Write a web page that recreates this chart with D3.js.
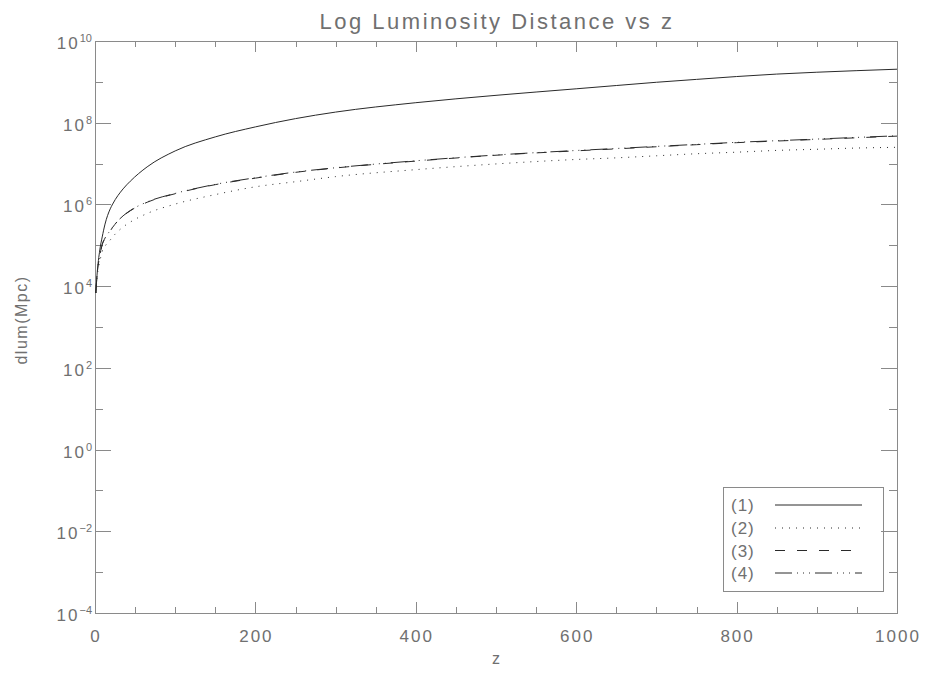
<!DOCTYPE html>
<html>
<head>
<meta charset="utf-8">
<script src="https://cdn.jsdelivr.net/npm/d3@7"></script>
<style>
  html, body { margin: 0; padding: 0; background: #fff; }
  svg { display: block; }
  text { font-family: "Liberation Sans", "DejaVu Sans", sans-serif; fill: #707070; }
</style>
</head>
<body>
<svg id="chart" width="927" height="673"></svg>
<script>
// ---- data ----
const zValues = [1, 2.5, 6, 9, 12.5, 19, 22, 35, 44, 65, 100, 150, 200, 250, 300, 400, 500, 600, 650, 700, 750, 800, 850, 900, 950, 1000];
const series1 = [6.8e3, 1.86e4, 7.7e4, 1.6e5, 3.3e5, 7.8e5, 1.02e6, 2.4e6, 3.7e6, 8.3e6, 2.04e7, 4.5e7, 7.9e7, 1.26e8, 1.82e8, 3.09e8, 4.68e8, 6.76e8, 8.13e8, 9.77e8, 1.15e9, 1.35e9, 1.55e9, 1.72e9, 1.88e9, 2.04e9];
const series2 = [6.8e3, 1.6e4, 4.0e4, 7.1e4, 9.5e4, 1.35e5, 1.6e5, 2.8e5, 3.7e5, 6.0e5, 1.02e6, 1.74e6, 2.7e6, 3.6e6, 4.8e6, 7.1e6, 9.8e6, 1.26e7, 1.38e7, 1.55e7, 1.74e7, 1.9e7, 2.1e7, 2.24e7, 2.4e7, 2.5e7];
const series3 = [6.8e3, 1.78e4, 5.5e4, 1.03e5, 1.48e5, 2.25e5, 2.75e5, 5.2e5, 7.0e5, 1.13e6, 1.83e6, 3.05e6, 4.4e6, 6.1e6, 7.8e6, 1.15e7, 1.6e7, 2.05e7, 2.29e7, 2.58e7, 2.9e7, 3.25e7, 3.56e7, 3.9e7, 4.28e7, 4.7e7];
const series4 = [6.8e3, 1.8e4, 5.6e4, 1.05e5, 1.5e5, 2.3e5, 2.8e5, 5.25e5, 7.1e5, 1.15e6, 1.86e6, 3.1e6, 4.5e6, 6.2e6, 7.9e6, 1.17e7, 1.62e7, 2.09e7, 2.34e7, 2.63e7, 2.95e7, 3.31e7, 3.63e7, 3.98e7, 4.37e7, 4.79e7];
const seriesNames = ["(1)", "(2)", "(3)", "(4)"];
const xTickValues = [0, 200, 400, 600, 800, 1000];
const xMinorTicks = [50, 100, 150, 250, 300, 350, 450, 500, 550, 650, 700, 750, 850, 900, 950];
const yTickExponents = [10, 8, 6, 4, 2, 0, -2, -4];
const yMinorExponents = [9, 7, 5, 3, 1, -1, -3];
const titleText = "Log Luminosity Distance vs z";
const xLabel = "z";
const yLabel = "dlum(Mpc)";

// ---- layout ----
const L = 95, R = 897, T = 41, B = 613;
const svg = d3.select("#chart");
const x = d3.scaleLinear().domain([0, 1000]).range([L, R]);
const y = d3.scaleLog().domain([1e-4, 1e10]).range([B, T]);

const axisColor = "#8a8a8a";
const xTick = 0.02 * (B - T);
const yTick = 0.02 * (R - L);

function styleAxis(g) {
  g.selectAll("path, line").attr("stroke", axisColor).attr("stroke-width", 1).attr("shape-rendering", "crispEdges");
  g.selectAll("text").remove();
}

// bottom
svg.append("g").attr("transform", `translate(0,${B})`)
  .call(d3.axisBottom(x).tickValues(xTickValues).tickSize(-xTick).tickSizeOuter(0).tickFormat(""))
  .call(styleAxis);
svg.append("g").attr("transform", `translate(0,${B})`)
  .call(d3.axisBottom(x).tickValues(xMinorTicks).tickSize(-xTick / 2).tickSizeOuter(0).tickFormat(""))
  .call(styleAxis).call(g => g.select(".domain").remove());
// top
svg.append("g").attr("transform", `translate(0,${T})`)
  .call(d3.axisTop(x).tickValues(xTickValues).tickSize(-xTick).tickSizeOuter(0).tickFormat(""))
  .call(styleAxis);
svg.append("g").attr("transform", `translate(0,${T})`)
  .call(d3.axisTop(x).tickValues(xMinorTicks).tickSize(-xTick / 2).tickSizeOuter(0).tickFormat(""))
  .call(styleAxis).call(g => g.select(".domain").remove());
// left
const yMajorVals = yTickExponents.map(e => Math.pow(10, e));
const yMinorVals = yMinorExponents.map(e => Math.pow(10, e));
svg.append("g").attr("transform", `translate(${L},0)`)
  .call(d3.axisLeft(y).tickValues(yMajorVals).tickSize(-yTick).tickSizeOuter(0).tickFormat(""))
  .call(styleAxis);
svg.append("g").attr("transform", `translate(${L},0)`)
  .call(d3.axisLeft(y).tickValues(yMinorVals).tickSize(-yTick / 2).tickSizeOuter(0).tickFormat(""))
  .call(styleAxis).call(g => g.select(".domain").remove());
// right
svg.append("g").attr("transform", `translate(${R},0)`)
  .call(d3.axisRight(y).tickValues(yMajorVals).tickSize(-yTick).tickSizeOuter(0).tickFormat(""))
  .call(styleAxis);
svg.append("g").attr("transform", `translate(${R},0)`)
  .call(d3.axisRight(y).tickValues(yMinorVals).tickSize(-yTick / 2).tickSizeOuter(0).tickFormat(""))
  .call(styleAxis).call(g => g.select(".domain").remove());

// x tick labels
svg.append("g").selectAll("text").data(xTickValues).join("text")
  .attr("x", d => x(d) + 1)
  .attr("y", B + 29)
  .attr("text-anchor", "middle")
  .style("font-size", "17px")
  .style("letter-spacing", "2px")
  .text(d => d);

// y tick labels with superscripts
const yl = svg.append("g").selectAll("text").data(yTickExponents).join("text")
  .attr("x", L - 3)
  .attr("y", d => y(Math.pow(10, d)) + 8)
  .attr("text-anchor", "end")
  .style("font-size", "17px");
yl.append("tspan").style("letter-spacing", "2px").text("10");
yl.append("tspan").attr("dy", -7).style("font-size", "11px").text(d => String(d).replace("-", "\u2212"));

// title and axis labels
svg.append("text").attr("x", (L + R) / 2 + 1).attr("y", 29).attr("text-anchor", "middle")
  .style("font-size", "22px").style("letter-spacing", "2.5px").text(titleText);
svg.append("text").attr("x", (L + R) / 2).attr("y", 664).attr("text-anchor", "middle")
  .style("font-size", "16px").text(xLabel);
svg.append("text").attr("transform", `translate(27,${(T + B) / 2 - 7}) rotate(-90)`).attr("text-anchor", "middle")
  .style("font-size", "16px").style("letter-spacing", "1.5px").text(yLabel);

// curves
const allSeries = [series1, series2, series3, series4];
const dashes = [null, "1,6", "10,12", "17,5,1,5,1,5,1,5"];
const lineColor = "#2a2a2a";
const lineGen = d3.line().x(d => x(d[0])).y(d => y(d[1])).curve(d3.curveMonotoneX);
const plot = svg.append("g");
allSeries.forEach((s, i) => {
  plot.append("path")
    .datum(zValues.map((z, j) => [z, s[j]]))
    .attr("fill", "none")
    .attr("stroke", lineColor)
    .attr("stroke-width", 1)
    .attr("stroke-dasharray", dashes[i])
    .attr("d", lineGen);
});

// legend
const lg = svg.append("g");
lg.append("rect").attr("x", 723.5).attr("y", 487.5).attr("width", 160).attr("height", 104)
  .attr("fill", "none").attr("stroke", axisColor).attr("stroke-width", 1);
const legendYs = [505, 528, 550.5, 573];
seriesNames.forEach((name, i) => {
  lg.append("text").attr("x", 731).attr("y", legendYs[i] + 6)
    .style("font-size", "17px").style("letter-spacing", "1px").text(name);
  lg.append("line").attr("x1", 775).attr("x2", i === 2 ? 852 : 862)
    .attr("y1", legendYs[i]).attr("y2", legendYs[i])
    .attr("stroke", lineColor).attr("stroke-width", 1)
    .attr("stroke-dasharray", dashes[i]);
});
</script>
</body>
</html>
